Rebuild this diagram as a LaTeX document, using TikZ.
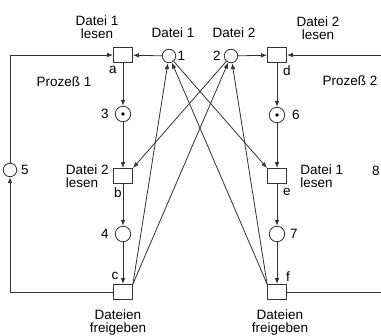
\documentclass[tikz,border=0pt]{standalone}
\usepackage{fontspec}
\setmainfont{Liberation Sans}
\usetikzlibrary{arrows.meta,calc,positioning}

\tikzset{
  trans/.style={draw, rectangle, minimum width=19pt, minimum height=15pt, inner sep=0pt, fill=white},
  place/.style={draw, circle, minimum size=13.5pt, inner sep=0pt, fill=white},
  bigplace/.style={place, minimum size=15.5pt},
  arc/.style={-{Latex[length=6pt,width=4.5pt]}, line width=0.8pt, black!80},
  txt/.style={inner sep=0pt, font=\fontsize{13.5}{13}\selectfont},
}

\begin{document}
\begin{tikzpicture}[x=1pt, y=-1pt, line width=0.8pt, draw=black!80]
        \useasboundingbox (0,0) rectangle (381,336);
        \clip (0,0) rectangle (381,336);
        % transitions
        \node[trans] (tA) at (123,55) {};
        \node[trans] (tB) at (123,176) {};
        \node[trans] (tC) at (123,292) {};
        \node[trans] (tD) at (277,55) {};
        \node[trans] (tE) at (277,176) {};
        \node[trans] (tF) at (277,292) {};
        % places
        \node[place] (p1) at (169,56) {};
        \node[place] (p2) at (231,56) {};
        \node[bigplace] (p3) at (123,114) {};
        \node[bigplace] (p4) at (123,234) {};
        \node[place] (p5) at (10,170) {};
        \node[bigplace] (p6) at (277,115) {};
        \node[bigplace] (p7) at (277,234) {};
        \node[place] (p8) at (390,170) {};
        % tokens
        \fill (p3) circle (1.8pt);
        \fill (p6) circle (1.8pt);
        % process 1
        \draw[arc] (tA) -- (p3);
        \draw[arc] (p3) -- (tB);
        \draw[arc] (tB) -- (p4);
        \draw[arc] (p4) -- (tC);
        \draw[arc] (tC.west) -| (p5.south);
        \draw[arc] (p5.north) |- (tA.west);
        % process 2
        \draw[arc] (tD) -- (p6);
        \draw[arc] (p6) -- (tE);
        \draw[arc] (tE) -- (p7);
        \draw[arc] (p7) -- (tF);
        \draw[arc] (tF.east) -| (p8.south);
        \draw[arc] (p8.north) |- (tD.east);
        % files
        \draw[arc] (p1) -- (tA);
        \draw[arc] (p2) -- (tD);
        \draw[arc] (p1) -- (tE.north west);
        \draw[arc] (p2) -- (tB.north east);
        \draw[arc] (tC.north east) -- (p1);
        \draw[arc] (tC.north east) -- (p2);
        \draw[arc] (tF.north west) -- (p1);
        \draw[arc] (tF.north west) -- (p2);
        % labels
        \node[txt, align=center, anchor=north] (lA) at (97,15) {Datei 1\\lesen};
        \node[txt, align=center, anchor=north] (lD) at (318,16) {Datei 2\\lesen};
        \node[txt, align=left, anchor=east] (lB) at (109,176) {Datei 2\\lesen};
        \node[txt, align=left, anchor=west] (lE) at (300,176) {Datei 1\\lesen};
        \node[txt, align=center, anchor=north] (lC) at (118,309) {Dateien\\freigeben};
        \node[txt, align=center, anchor=north] (lF) at (280,309) {Dateien\\freigeben};
        \node[txt] (f1) at (173,33) {Datei 1};
        \node[txt] (f2) at (234,33) {Datei 2};
        \node[txt] (pr1) at (64,82) {Prozeß 1};
        \node[txt] (pr2) at (350,81) {Prozeß 2};
        \node[txt] at (113,70) {a};
        \node[txt] at (118,193) {b};
        \node[txt] at (115,276) {c};
        \node[txt] at (287,71) {d};
        \node[txt] at (287,192) {e};
        \node[txt] at (288,277) {f};
        \node[txt] at (181.5,56) {1};
        \node[txt] at (217,56) {2};
        \node[txt] at (105,114) {3};
        \node[txt] at (105,234) {4};
        \node[txt] at (25,170) {5};
        \node[txt] at (296,115) {6};
        \node[txt] at (294,234) {7};
        \node[txt] at (376,171) {8};
      \end{tikzpicture}
\end{document}
